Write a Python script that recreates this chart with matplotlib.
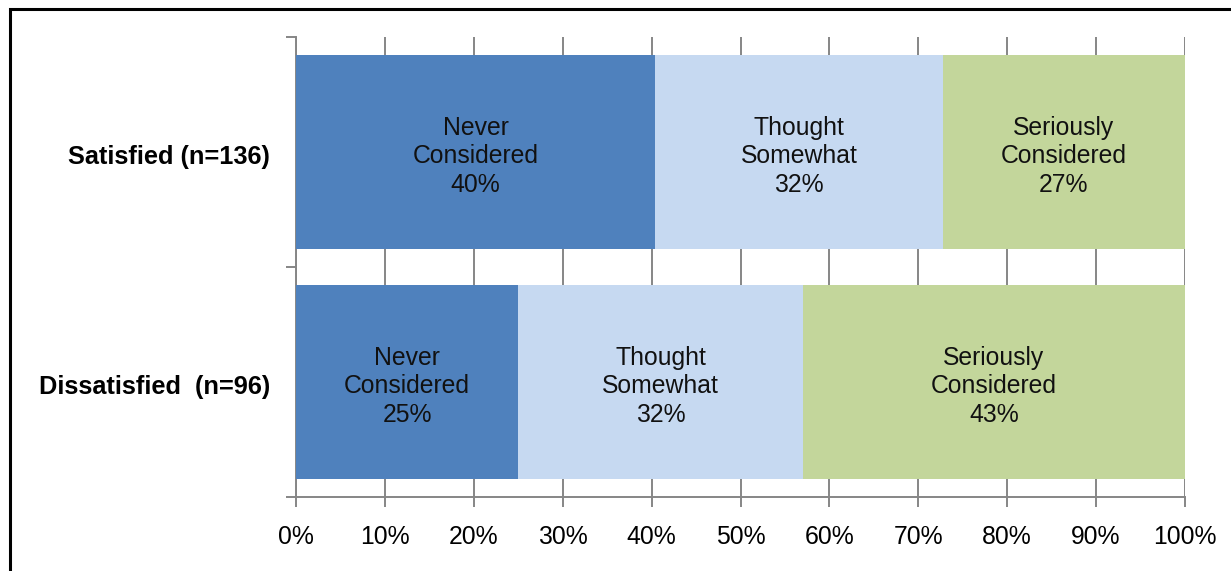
import matplotlib.pyplot as plt
from matplotlib.patches import Rectangle
from matplotlib.ticker import FuncFormatter, MultipleLocator

plt.rcParams["font.family"] = ["Liberation Sans", "DejaVu Sans"]

groups = ["Dissatisfied  (n=96)", "Satisfied (n=136)"]
segments = ["Never\nConsidered", "Thought\nSomewhat", "Seriously\nConsidered"]
# percent answering each option, per group (same order as groups)
values = {
    "Never\nConsidered": [25, 40],
    "Thought\nSomewhat": [32, 32],
    "Seriously\nConsidered": [43, 27],
}
colors = ["#4F81BD", "#C6D9F1", "#C3D69B"]

W, H = 1231, 571
fig = plt.figure(figsize=(W / 100, H / 100), dpi=100)
ax = fig.add_axes([296 / W, 1 - 497 / H, (1185 - 296) / W, (497 - 37) / H])

totals = [sum(values[s][i] for s in segments) for i in range(len(groups))]
left = [0.0] * len(groups)
for seg, col in zip(segments, colors):
    share = [v / t * 100 for v, t in zip(values[seg], totals)]
    ax.barh(range(len(groups)), share, left=left, height=0.84, color=col,
            zorder=3)
    for i, (w, l) in enumerate(zip(share, left)):
        ax.text(l + w / 2, i - 0.018, f"{seg}\n{values[seg][i]}%",
                ha="center", va="center", fontsize=17.8, color="#111111",
                linespacing=1.23, zorder=4)
    left = [a + b for a, b in zip(left, share)]

grey = "#868686"
ax.set_xlim(0, 100)
ax.set_ylim(-0.5, len(groups) - 0.5)
ax.xaxis.set_major_locator(MultipleLocator(10))
ax.xaxis.set_major_formatter(FuncFormatter(lambda x, _: f"{x:.0f}%"))
ax.grid(axis="x", color=grey, linewidth=1.4, zorder=0)
ax.set_axisbelow(True)

# group names sit between the boundary ticks
ax.set_yticks([-0.5, 0.5, 1.5])
ax.set_yticklabels([])
ax.set_yticks([i - 0.012 for i in range(len(groups))], minor=True)
ax.set_yticklabels(groups, minor=True, fontsize=18.3, fontweight="bold")
ax.tick_params(axis="y", which="minor", length=0, pad=18.5)
ax.tick_params(axis="y", which="major", length=7, width=1.4, color=grey)
ax.tick_params(axis="x", length=7, width=1.4, color=grey, labelsize=17.8,
               pad=13)

for side in ("top", "right"):
    ax.spines[side].set_visible(False)
for side in ("left", "bottom"):
    ax.spines[side].set_color(grey)
    ax.spines[side].set_linewidth(1.4)

# outer chart frame
fig.patches.append(Rectangle((10 / W, -0.1), 1.2, 1 - 9 / H + 0.1,
                             transform=fig.transFigure, fill=False,
                             edgecolor="black", linewidth=2.2))

fig.savefig("out.png", dpi=100)
